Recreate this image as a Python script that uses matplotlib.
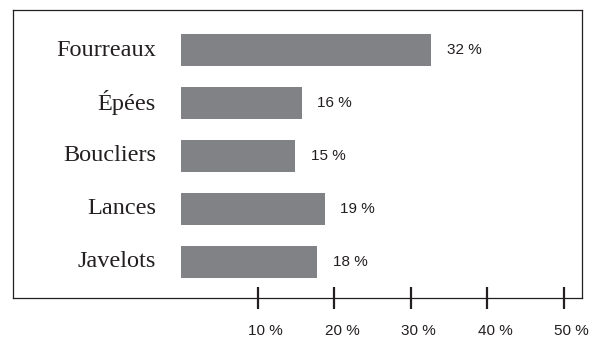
import matplotlib.pyplot as plt
import matplotlib.transforms as mtransforms

categories = ["Fourreaux", "Épées", "Boucliers", "Lances", "Javelots"]
values = [32.7, 15.8, 14.9, 18.8, 17.8]
value_labels = ["32 %", "16 %", "15 %", "19 %", "18 %"]
ticks = [10, 20, 30, 40, 50]
tick_labels = ["10 %", "20 %", "30 %", "40 %", "50 %"]

fig = plt.figure(figsize=(5.97, 3.40), dpi=100)
ax = fig.add_axes([13 / 597, 1 - 298 / 340, (582 - 13) / 597, (298 - 10) / 340])

pos = list(range(len(categories)))
ax.barh(pos, values, height=0.6, color="#808285", left=0)

for y, v, lab in zip(pos, values, value_labels):
    ax.text(v + 2.0, y, lab, ha="left", va="center", fontsize=11,
            family="Liberation Sans", color="#231f20")
for y, cat in zip(pos, categories):
    ax.text(-3.3, y, cat, ha="right", va="center", fontsize=17.5,
            family="Liberation Serif", color="#231f20")

ax.set_xlim(-22, 52.4)
ax.set_ylim(4.68, -0.755)
ax.set_yticks([])
ax.set_xticks(ticks)
ax.set_xticklabels(tick_labels, family="Liberation Sans", fontsize=11, color="#231f20")
ax.tick_params(axis="x", direction="inout", length=16, width=1.6, pad=11, color="#231f20")

offset = mtransforms.ScaledTranslation(8 / 100, 0, fig.dpi_scale_trans)
for lbl in ax.get_xticklabels():
    lbl.set_transform(lbl.get_transform() + offset)

for s in ax.spines.values():
    s.set_linewidth(0.9)
    s.set_color("#231f20")

fig.savefig("out.png", dpi=100)
